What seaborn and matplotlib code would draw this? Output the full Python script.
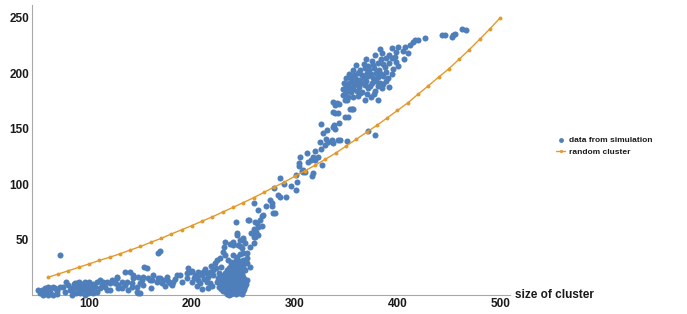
import pandas as pd
import matplotlib
matplotlib.use("Agg")
import matplotlib.pyplot as plt
import matplotlib.ticker as ticker
import seaborn as sns

# random cluster curve (orange)
rand_x = list(range(60, 501, 10))
rand_y = [16, 18.9, 21.9, 25, 28, 31.2, 34, 37.2, 40.5, 43.8, 47.5, 51, 55, 58.8,
          62.6, 66.6, 70.5, 74.8, 79, 83.3, 87.7, 92.5, 97.3, 101.8, 107, 112, 117,
          122.5, 128, 134.3, 140.5, 146.8, 153, 159.7, 166.4, 173.2, 181, 188.6,
          196.4, 204, 212.6, 221.3, 230.6, 240, 250]

# simulation points, read region by region
sim_small = [
    (50.7, 4.5), (54, 4.5), (57.2, 6), (60.4, 7.5), (62, 6), (65.3, 7.5), (66.9, 6),
    (55.5, 0), (60.4, 0), (65.3, 0), (68.6, 0.6), (62, 3), (71.8, 36), (52, 1.5),
    (58, 3), (69, 4), (72, 7), (75, 7.5), (76.7, 3), (79.9, 9), (81.5, 4.5), (83.2, 0),
    (84.7, 3), (86.4, 7.5), (88, 10.5), (89.6, 6), (91.2, 1.5), (92.9, 4.5), (94.5, 7.5),
    (96.1, 0), (97.8, 3), (99.3, 6), (101, 9), (102.6, 4.5), (104.2, 1.5), (105.8, 7.5),
    (107.5, 3), (110.7, 6), (112.4, 9), (114, 12), (115.6, 7.5), (117.2, 4.5),
    (120.4, 10.5), (122, 13.5), (125.3, 12), (127, 15), (128.5, 9), (78, 12), (86, 11),
    (90, 12), (93, 10), (96, 12), (100, 11.5), (104, 10), (108, 12), (82, 6), (87, 2),
    (95, 5), (99, 2), (103, 7), (85, 10), (91, 8), (97, 9), (101, 3),
]

sim_mid = [
    (110.7, 13.5), (117, 12), (125, 10.5), (132, 12), (120, 4.5), (128.5, 6), (136.7, 12),
    (141.5, 10.5), (143, 15), (146.4, 7.5), (149.6, 10.5), (152.8, 16.5), (157.7, 15),
    (161, 13.5), (146.4, 3), (149.6, 1.5), (153, 25.5), (156, 24), (135, 21), (165.8, 12),
    (169, 15), (172.3, 13.5), (175.6, 16.5), (178.8, 10.5), (182, 12), (180.4, 9),
    (167.4, 38), (169, 39.5), (188.5, 18), (190, 12), (127, 16.5), (131.8, 6), (135, 9),
    (138.2, 4.5), (141.5, 7.5), (140, 21), (143, 18), (148, 16.5), (151.3, 13.5),
    (152.8, 9), (148, 1.5), (159.3, 13.5), (162.5, 18), (167.4, 15.5), (170.7, 10.5),
    (177, 12.5), (185.3, 18), (195, 19.5), (198.3, 21), (203, 18), (206.3, 21),
    (209.6, 18), (200, 12), (206.3, 13.5), (196, 24), (200, 22), (195, 15), (184, 14),
    (174, 8), (160, 6),
]

sim_pre = [
    (211, 21), (204.7, 16.5), (216, 16.5), (221, 18), (225.8, 15), (208, 10.5),
    (214.5, 12), (224, 31.5), (227.4, 33), (222.6, 28.5), (223.5, 24), (221, 22.5),
    (217.7, 21), (214.5, 19.5), (209.6, 18.5), (212, 14), (218, 11), (220, 8), (224, 12),
    (226, 20), (219, 26), (213, 23), (205, 8), (210, 5), (216, 6), (226, 7), (228, 25),
    (202, 15),
]

sim_dense = [
    (234, 1.2), (238, 0.6), (240, 2.1), (243, 1.0), (246, 1.7), (236, 0.3), (249, 0.8),
    (230, 3.4), (233, 2.8), (236, 3.9), (239, 3.1), (241, 4.2), (244, 2.6), (247, 3.8),
    (250, 3.2), (228, 5.1), (231, 5.8), (234, 4.6), (237, 5.5), (240, 6.2), (242, 4.9),
    (245, 5.6), (248, 6.0), (251, 5.2), (227, 7.4), (230, 6.8), (233, 7.9), (235, 7.1),
    (238, 8.3), (241, 7.5), (243, 6.6), (246, 8.1), (249, 7.2), (252, 7.8), (229, 9.2),
    (232, 9.8), (234, 8.9), (237, 10.1), (239, 9.4), (242, 9.0), (245, 10.3), (247, 9.6),
    (250, 8.8), (253, 9.9), (228, 11.3), (231, 11.9), (233, 10.8), (236, 12.2),
    (239, 11.1), (241, 12.5), (244, 11.6), (246, 10.9), (249, 12.0), (252, 11.4),
    (230, 13.6), (232, 14.1), (235, 12.9), (238, 13.8), (240, 14.4), (243, 13.2),
    (245, 14.7), (248, 13.5), (251, 14.0), (254, 13.1), (229, 15.8), (233, 16.3),
    (236, 15.1), (239, 16.7), (242, 15.5), (244, 16.1), (247, 15.9), (250, 16.5),
    (231, 18.2), (234, 17.6), (237, 18.8), (240, 17.9), (243, 18.5), (246, 17.3),
    (249, 18.9), (232, 20.1), (236, 19.7), (239, 20.6), (242, 19.9), (245, 20.9),
    (248, 20.3), (234, 22.4), (238, 21.8), (241, 22.9), (244, 22.1), (247, 23.0),
    (236, 24.6), (240, 24.1), (243, 25.2), (246, 24.4), (250, 25.0), (238, 26.9),
    (242, 27.4), (245, 26.6), (249, 27.8), (240, 29.1), (244, 28.7), (247, 29.6),
    (251, 29.0), (243, 31.3), (246, 30.8), (250, 31.9),
]

sim_rise = [
    (243.7, 54), (250, 51), (232, 48), (231.6, 43), (237, 46), (240.4, 45), (245, 45),
    (247, 44), (248.5, 42), (230.6, 39), (232.3, 36), (240.4, 36), (243.7, 34.5),
    (247, 37), (250, 37.6), (253.4, 38), (256.6, 43.5), (260, 46.6), (261.5, 52.5),
    (253.4, 28.5), (256.6, 25.5), (251.7, 22.5), (243, 66), (255, 68), (243.7, 55.6),
    (240.4, 48), (247, 49.5), (251.7, 46.6), (250, 50), (235, 32), (238, 30), (254, 33),
    (260, 83), (264, 76.6), (269.6, 72), (268.6, 71), (256, 68), (261.5, 66), (263, 64.6),
    (260.5, 59.5), (264.7, 61), (268, 62), (258, 55.6), (262.5, 57), (260, 52),
    (261.5, 53), (264.7, 54), (286, 105.7), (280, 96.7), (284, 90), (286, 88), (292, 88),
    (276, 85.6), (277.7, 82.6), (278.4, 80), (279, 74), (281, 73.6), (301, 108),
    (302, 102), (301, 95), (296, 98), (290, 100), (272, 80), (266, 68),
]

sim_upper = [
    (305, 124), (304.6, 116), (307, 112), (308, 111), (304.6, 118.6), (308.5, 112.6),
    (310, 111), (313, 119.5), (315.6, 121.6), (317.6, 124), (320, 122), (318, 109.6),
    (316.6, 107), (327, 117), (323, 124.6), (326, 132), (329.6, 135), (332, 138),
    (325, 138), (330.5, 141), (328, 146), (331, 148.6), (326, 154), (337.6, 151.6),
    (339.3, 150), (338, 153), (336, 139.6), (337, 137), (343.5, 155), (342.5, 139.6),
    (337.6, 165), (342.5, 164), (339.3, 163.7), (337.6, 174), (341, 172.7), (339, 171),
    (343.5, 171.8), (347.4, 180), (349, 175.7), (355.5, 167.3), (357, 168),
    (352, 160.6), (357, 178.6), (350.7, 175.7), (354, 168), (349, 160.6),
    (350.7, 138.7), (344, 140), (371.7, 147.7), (378, 144), (312, 128), (320, 130),
]

sim_blob = [
    (352, 178.4), (362, 179.1), (368, 176.0), (374, 178.8), (381, 175.5),
    (349, 181.2), (355, 182.9), (364, 182.1), (370, 181.4), (377, 180.9),
    (347, 185.6), (351, 183.8), (357, 186.1), (361, 184.2), (366, 183.5),
    (371, 186.3), (378, 184.0), (385, 186.6), (350, 188.4), (354, 186.6),
    (358, 189.1), (363, 188.0), (368, 189.4), (373, 188.3), (381, 188.8),
    (386, 190.0), (392, 187.5), (348, 191.3), (353, 191.6), (356, 193.2), (360, 191.0),
    (365, 191.4), (369, 193.0), (375, 191.6), (379, 192.8), (383, 191.4),
    (389, 193.2), (350, 195.4), (355, 195.6), (359, 196.0), (363, 194.1), (367, 195.4),
    (371, 197.2), (376, 195.6), (381, 196.8), (386, 197.4), (391, 196.0),
    (353, 199.5), (358, 198.8), (362, 200.1), (366, 198.2), (370, 200.5), (374, 199.3),
    (379, 200.0), (384, 199.6), (389, 201.0), (395, 199.4), (357, 203.2),
    (364, 203.1), (368, 204.4), (372, 202.8), (377, 204.3), (382, 203.0),
    (388, 205.6), (396, 203.9), (401, 206.7), (360, 207.5), (367, 208.0), (371, 206.2),
    (376, 207.6), (381, 209.4), (386, 207.9), (392, 209.6), (399, 210.2),
    (369, 212.7), (375, 211.4), (384, 212.9), (389, 214.1), (395, 213.6),
    (406, 212.6), (378, 216.2), (385, 218.4), (392, 216.8), (399, 218.9),
    (383, 221.5), (395, 222.8),
]

sim_top = [
    (401, 224), (407.4, 224), (412, 225), (415.6, 228), (417, 229.7), (427, 232),
    (443, 234), (446, 234), (453, 232.7), (454.5, 234), (456, 235.8), (462.5, 240),
    (466.7, 239), (405, 220), (410, 218), (398, 215), (420, 230),
]

BLUE = "#4f7fbb"
ORANGE = "#e39a2c"

sim = pd.DataFrame(sim_small + sim_mid + sim_pre + sim_dense + sim_rise + sim_upper
                   + sim_blob + sim_top, columns=["size", "value"])
rnd = pd.DataFrame({"size": rand_x, "value": rand_y})

sns.set_style("white")
plt.rcParams["font.family"] = ["Liberation Sans", "DejaVu Sans"]

fig = plt.figure(figsize=(6.87, 3.14), dpi=100)
ax = fig.add_axes([32 / 687, 19 / 314, 478 / 687, 290 / 314])

sns.scatterplot(data=sim, x="size", y="value", color=BLUE, s=19, linewidth=0,
                ax=ax, clip_on=False, label="data from simulation", zorder=3)
sns.lineplot(data=rnd, x="size", y="value", color=ORANGE, linewidth=1.0,
             marker="o", markersize=2.8, markeredgewidth=0, ax=ax,
             label="random cluster", zorder=4)

ax.set_xlim(44.5, 509.5)
ax.set_ylim(0, 261.5)
ax.set_xlabel("")
ax.set_ylabel("")

for side in ["top", "right"]:
    ax.spines[side].set_visible(False)
for side in ["left", "bottom"]:
    ax.spines[side].set_color("#a8a8a8")
    ax.spines[side].set_linewidth(0.8)

ax.xaxis.set_major_locator(ticker.MultipleLocator(100))
ax.xaxis.set_minor_locator(ticker.MultipleLocator(20))
ax.yaxis.set_major_locator(ticker.FixedLocator([50, 100, 150, 200, 250]))
ax.yaxis.set_minor_locator(ticker.MultipleLocator(10))
ax.tick_params(which="both", direction="in", color="#b0b0b0", width=0.6)
ax.tick_params(which="major", length=4, pad=2, labelsize=8.5, labelcolor="#1a1a1a")
ax.tick_params(which="minor", length=2)
for lab in ax.get_xticklabels() + ax.get_yticklabels():
    lab.set_fontweight("bold")

ax.text(1.01, 0.0, "size of cluster", transform=ax.transAxes, ha="left",
        va="center", fontsize=8.5, fontweight="bold", color="#1a1a1a")

leg = ax.legend(loc="center left", bbox_to_anchor=(553 / 687, 1 - 146 / 314),
                bbox_transform=fig.transFigure, frameon=False, fontsize=6,
                handlelength=1.0, handletextpad=0.5, labelspacing=0.5,
                borderaxespad=0, markerscale=0.8)
for t in leg.get_texts():
    t.set_fontweight("bold")
    t.set_color("#1a1a1a")

fig.savefig("out.png", dpi=100)
